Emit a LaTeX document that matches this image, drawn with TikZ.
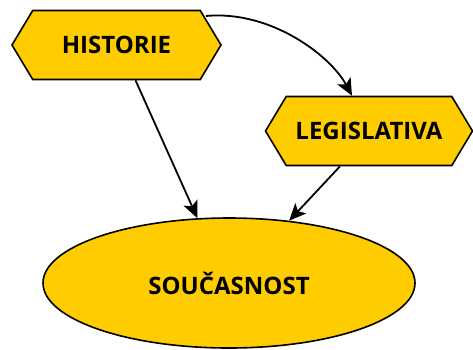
\documentclass[tikz,border=0pt]{standalone}
\usepackage{fontspec}
\setmainfont{Open Sans}
\usetikzlibrary{shapes.symbols,shapes.geometric,arrows.meta,calc}
\definecolor{hexfill}{HTML}{FFCC00}
\tikzset{
  hexbox/.style={shape=signal, signal to=west and east, signal pointer angle=118,
    draw=black, fill=hexfill, line width=1.6pt, inner sep=0pt,
    minimum height=69pt, font=\bfseries\fontsize{24}{28}\selectfont},
  ellbox/.style={ellipse, draw=black, fill=hexfill, line width=1.6pt, inner sep=0pt,
    minimum width=372pt, minimum height=130pt, font=\bfseries\fontsize{24}{28}\selectfont},
  conn/.style={draw=black, line width=1.8pt, -{Stealth[length=17pt,width=15pt,inset=4pt]}}
}
\begin{document}
\begin{tikzpicture}[x=1pt,y=-1pt]
\useasboundingbox (0,0) rectangle (473,349);
\node[hexbox, minimum width=209pt] (hist) at (116.5,45) {\raisebox{-2pt}{HISTORIE}};
\node[hexbox, minimum width=207pt] (leg) at (369,131) {\raisebox{-2pt}{LEGISLATIVA}};
\node[ellbox] (sou) at (229,283) {\raisebox{-6pt}{SOUČASNOST}};
\coordinate (cstart) at (206,16);
\draw[conn] ($(hist.south)+(19,0)$) -- (sou.116);
\draw[conn] ($(leg.south)+(-29,0)$) -- (sou.46);
\draw[conn] (cstart) .. controls (270,10) and (330,55) .. ($(leg.north)+(-17,0)$);
\end{tikzpicture}
\end{document}
